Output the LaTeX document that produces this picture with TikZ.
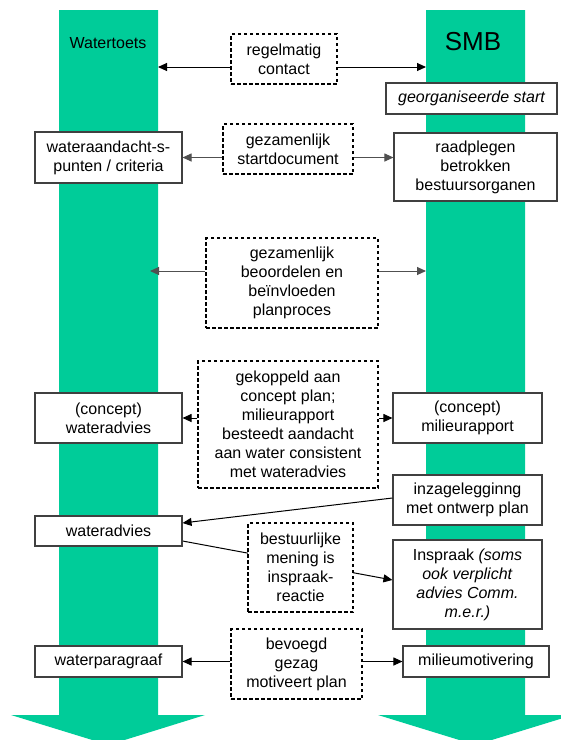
\documentclass[tikz,border=0pt]{standalone}
\usepackage{fontspec}
\setmainfont{Liberation Sans}
\usetikzlibrary{arrows.meta,backgrounds}
\definecolor{barg}{RGB}{0,204,153}
\definecolor{boxc}{RGB}{64,64,64}
\definecolor{lgray}{RGB}{80,80,80}
\begin{document}
\begin{tikzpicture}[x=1pt,y=-1pt,
  box/.style={draw=boxc, line width=1.1pt, fill=white, inner sep=0pt, align=center, font=\fontsize{16}{19}\selectfont},
  dbox/.style={draw=black, dash pattern=on 3.5pt off 2.5pt, line width=1.2pt, fill=white, inner sep=0pt, align=center, font=\fontsize{16}{19}\selectfont},
  conn/.style={draw=black, line width=1pt, -{Triangle[length=9pt,width=8pt]}},
  gconn/.style={conn, draw=lgray},
  lbl/.style={inner sep=0pt}]
\useasboundingbox (0,0) rectangle (561,740);
\clip (0,0) rectangle (561,740);
% columns
\fill[barg] (59,10) -- (158,10) -- (158,715) -- (205,715) -- (108.5,745) -- (11,715) -- (59,715) -- cycle;
\fill[barg] (426,10) -- (525,10) -- (525,715) -- (573,715) -- (475.5,745) -- (378,715) -- (426,715) -- cycle;
\node[lbl, font=\fontsize{16}{19}\selectfont] (wt) at (108,43) {Watertoets};
\node[lbl, font=\fontsize{26}{30}\selectfont] (smb) at (473,42) {SMB};
% boxes
\node[dbox, minimum width=106, minimum height=50] (reg) at (284,59) {regelmatig\\contact};
\node[box, minimum width=171, minimum height=31, font=\fontsize{16}{19}\selectfont\itshape] (org) at (471.5,98.5) {georganiseerde start};
\node[box, minimum width=147, minimum height=51] (wat) at (108.5,157.5) {wateraandacht-s-\\punten / criteria};
\node[dbox, minimum width=130, minimum height=50] (sd) at (288,149) {gezamenlijk\\startdocument};
\node[box, minimum width=163, minimum height=68] (raad) at (475.5,167) {raadplegen\\betrokken\\bestuursorganen};
\node[dbox, minimum width=172, minimum height=90] (beo) at (292,283) {gezamenlijk\\beoordelen en\\beïnvloeden\\planproces};
\node[box, minimum width=147, minimum height=50] (cwa) at (108.5,418) {(concept)\\wateradvies};
\node[dbox, minimum width=180, minimum height=127] (gek) at (288,424.5) {gekoppeld aan\\concept plan;\\milieurapport\\besteedt aandacht\\aan water consistent\\met wateradvies};
\node[box, minimum width=149, minimum height=50] (cmr) at (467.5,418) {(concept)\\milieurapport};
\node[box, minimum width=149, minimum height=50] (inz) at (467.5,500) {inzagelegginng\\met ontwerp plan};
\node[box, minimum width=147, minimum height=30] (wa) at (108.5,531) {wateradvies};
\node[box, minimum width=149, minimum height=89] (insp) at (467.5,584.5) {Inspraak \textit{(soms}\\\textit{ook verplicht}\\\textit{advies Comm.}\\\textit{m.e.r.)}};
\node[dbox, minimum width=105, minimum height=89] (bes) at (300.5,567.5) {bestuurlijke\\mening is\\inspraak-\\reactie};
\node[dbox, minimum width=131, minimum height=70] (bev) at (296.5,664) {bevoegd\\gezag\\motiveert plan};
\node[box, minimum width=147, minimum height=31] (wp) at (108.5,661.5) {waterparagraaf};
\node[box, minimum width=146, minimum height=31] (mm) at (476,661.5) {milieumotivering};
% free ends on the columns
\coordinate (L1) at (158,67);
\coordinate (R1) at (426,67);
\coordinate (L2) at (150,271);
\coordinate (R2) at (426,271);
% connectors
\draw[conn] (reg.west |- L1) -- (L1);
\draw[conn] (reg.east |- R1) -- (R1);
\draw[gconn] (sd.west |- wat.east) -- (wat.east);
\draw[gconn] (sd.east |- wat.east) -- (raad.west |- wat.east);
\draw[gconn] (beo.west |- L2) -- (L2);
\draw[gconn] (beo.east |- R2) -- (R2);
\draw[conn] (gek.west |- cwa.east) -- (cwa.east);
\draw[conn] (gek.east |- cmr.west) -- (cmr.west);
\draw[conn] ([yshift=2pt]inz.west) -- ([yshift=8pt]wa.east);
\begin{scope}[on background layer]
\draw[conn] ([yshift=-10pt]wa.east) -- ([yshift=4.5pt]insp.west);
\end{scope}
\draw[conn] (bev.west |- wp.east) -- (wp.east);
\draw[conn] (bev.east |- mm.west) -- (mm.west);
\end{tikzpicture}
\end{document}
